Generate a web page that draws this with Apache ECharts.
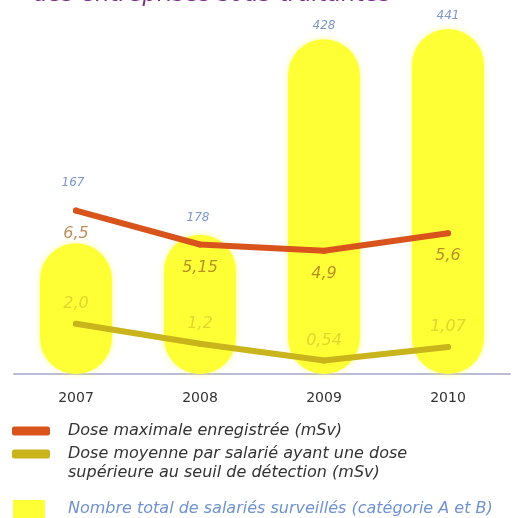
<!DOCTYPE html>
<html>
<head>
<meta charset="utf-8">
<script src="https://cdn.jsdelivr.net/npm/echarts@6/dist/echarts.min.js"></script>
<style>
  html, body { margin: 0; padding: 0; background: #fff; }
  #chart { width: 525px; height: 518px; }
</style>
</head>
<body>
<div id="chart"></div>
<script>
// données
const years = ['2007', '2008', '2009', '2010'];
const salaries = [167, 178, 428, 441];          // nombre total de salariés surveillés
const doseMax = [6.5, 5.15, 4.9, 5.6];           // dose maximale (mSv)
const doseMoy = [2.0, 1.2, 0.54, 1.07];          // dose moyenne (mSv)
const doseMaxLabels = ['6,5', '5,15', '4,9', '5,6'];
const doseMoyLabels = ['2,0', '1,2', '0,54', '1,07'];

const nomMax = 'Dose maximale enregistrée (mSv)';
const nomMoy = 'Dose moyenne par salarié ayant une dose';
const nomTotal = 'Nombre total de salariés surveillés (catégorie A et B)';

const font = 'DejaVu Sans';
const chart = echarts.init(document.getElementById('chart'));

// style commun des légendes
const legendText = { color: '#333', fontSize: 16, fontStyle: 'italic', fontFamily: font, padding: [0, 0, 0, 13] };

let option = {
  animation: false,
  title: {
    text: 'des entreprises sous-traitantes',
    left: 28,
    top: -21,
    textStyle: { color: '#7d2b8b', fontSize: 23, fontStyle: 'italic', fontWeight: 'normal', fontFamily: font }
  },
  grid: { left: 14, right: 15, top: 22, bottom: 144 },
  xAxis: {
    type: 'category',
    data: years,
    axisLine: { lineStyle: { color: '#b9bdd6', width: 2 } },
    axisTick: { show: false },
    axisLabel: { color: '#333', fontSize: 14, margin: 17, fontFamily: font }
  },
  yAxis: [
    { type: 'value', min: 0, max: 450, show: false },
    { type: 'value', min: 0, max: 14, show: false }
  ],
  legend: [
    {
      data: [nomMax],
      left: 12, top: 423, padding: 0,
      itemWidth: 38, itemHeight: 9, icon: 'roundRect',
      textStyle: legendText
    },
    {
      data: [nomMoy],
      left: 12, top: 446, padding: 0,
      itemWidth: 38, itemHeight: 9, icon: 'roundRect',
      textStyle: legendText
    },
    {
      data: [nomTotal],
      left: 13, top: 500, padding: 0,
      itemWidth: 32, itemHeight: 18, icon: 'rect',
      textStyle: Object.assign({}, legendText, { color: '#6f93d2', padding: [0, 0, 0, 18] })
    }
  ],
  graphic: [
    {
      type: 'text', left: 68, top: 465,
      style: { text: 'supérieure au seuil de détection (mSv)', fill: '#333', font: 'italic 16px "DejaVu Sans"' }
    }
  ],
  series: [
    {
      name: nomTotal,
      type: 'bar',
      yAxisIndex: 0,
      barWidth: 72,
      data: salaries.map((v, i) => ({
        value: v,
        label: i === 0 ? { offset: [-3, -47] } : (i === 1 ? { offset: [-2, -4] } : {})
      })),
      itemStyle: { color: '#ffff36', borderRadius: 36, shadowBlur: 6, shadowColor: 'rgba(255,255,80,0.6)' },
      label: {
        show: true, position: 'top', distance: 7,
        color: '#7b97cf', fontSize: 12, fontStyle: 'italic', fontFamily: font
      },
      z: 1
    },
    {
      name: nomMax,
      type: 'line',
      yAxisIndex: 1,
      data: doseMax,
      symbol: 'circle',
      symbolSize: 6,
      lineStyle: { color: '#d9541c', width: 6, cap: 'round', join: 'round' },
      itemStyle: { color: '#d9541c' },
      label: {
        show: true, position: 'bottom', distance: 12,
        formatter: p => doseMaxLabels[p.dataIndex],
        color: 'rgba(160,100,30,0.72)', fontSize: 16, fontStyle: 'italic', fontFamily: font
      },
      z: 3
    },
    {
      name: nomMoy,
      type: 'line',
      yAxisIndex: 1,
      data: doseMoy,
      symbol: 'circle',
      symbolSize: 6,
      lineStyle: { color: '#c9b41c', width: 6, cap: 'round', join: 'round' },
      itemStyle: { color: '#c9b41c' },
      label: {
        show: true, position: 'top', distance: 9,
        formatter: p => doseMoyLabels[p.dataIndex],
        color: 'rgba(200,180,40,0.55)', fontSize: 16, fontStyle: 'italic', fontFamily: font
      },
      z: 3
    }
  ]
};

chart.setOption(option);
</script>
</body>
</html>
